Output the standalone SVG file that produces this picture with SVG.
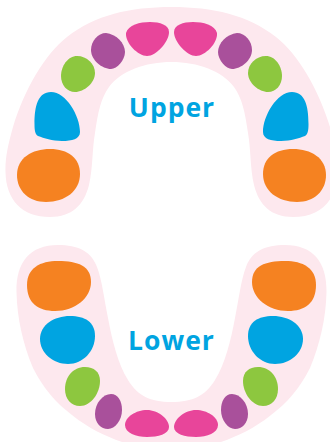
<svg xmlns="http://www.w3.org/2000/svg" xmlns:xlink="http://www.w3.org/1999/xlink" width="330" height="442" viewBox="0 0 330 442">
  <style>
    .gum { fill: #fde8ee; }
    .incisor { fill: #e8459a; }
    .canine { fill: #a9509b; }
    .premolar { fill: #8dc73f; }
    .first-molar { fill: #00a4e1; }
    .second-molar { fill: #f58221; }
    .label { font-family: "Open Sans", "Noto Sans", sans-serif; font-weight: 700; font-size: 26.5px; fill: #00a4e1; text-anchor: middle; letter-spacing: 1px; }
  </style>
  <defs>
    <!-- Left half of each tooth; the right half is its reflection about x=171.5 -->
    <path id="u-inc" d="M126,33 C128,25 140,22 150,22 C160,22 169,25 169,32 C169,42 156,56 147,56 C138,56 125,43 126,33Z"/>
    <path id="u-can" d="M91,50 C91,41 98,33 106,33 C116,34 125,43 125,52 C125,60 117,69 111,69 C102,69 91,60 91,50Z"/>
    <path id="u-pre" d="M61,76 C61,66 68,56 77,56 C87,56 95,64 95,73 C95,83 84,92 75,92 C67,92 61,85 61,76Z"/>
    <path id="u-m1" d="M34.500,124 C34.500,106 38,92 51,92 C66,92 80,116 80,132 C80,139 72,141 62,141 C52,141 44,138 38,136 C35,134 34.500,130 34.500,124Z"/>
    <path id="u-m2" d="M17,175 C17,158 32,149 50,149 C68,149 80,158 80,174 C80,191 65,202 46,202 C29,202 17,191 17,175Z"/>
    <path id="l-inc" d="M125,425 C125,417 136,410 147,410 C158,410 169,419 169,427 C169,434 158,437 147,437 C136,437 125,433 125,425Z"/>
    <path id="l-can" d="M95,414 C95,403 103,394 111,394 C118,394 122,401 122,410 C122,420 115,429 108,429 C101,429 95,423 95,414Z"/>
    <path id="l-pre" d="M65,389 C65,377 73,367 85,367 C94,367 100,372 100,381 C100,393 91,406 80,406 C71,406 65,399 65,389Z"/>
    <path id="l-m1" d="M40,339 C40,325 54,316 70,316 C85,316 95,322 95,336 C95,351 83,364 68,364 C53,364 40,353 40,339Z"/>
    <path id="l-m2" d="M27,285 C27,268 40,261 58,261 C78,261 91,266 91,282 C91,298 75,311 55,311 C38,311 27,303 27,285Z"/>
  </defs>

  <g id="upper-gum">
    <path class="gum" d="M171.5,7 C130,7 95,15 67,37 C45,54 24,90 13,127 C8,145 5,158 5.5,172 C6,200 22,217 50,217 C72,217 84,205 89,185 C93,168 92,150 95,133 C98,112 101,98 109,87 C121,71 145,62 171.5,62 C198,62 222,71 234,87 C242,98 245,112 248,133 C251,150 250,168 254,185 C259,205 271,217 293,217 C321,217 337,200 337.5,172 C338,158 335,145 330,127 C319,90 298,54 276,37 C248,15 213,7 171.5,7Z"/>
  </g>
  <g id="lower-gum">
    <path class="gum" d="M171.5,402 C150,402 138,396 128,380 C118,364 112,340 108,318 C104,298 102,280 97,267 C91,251 78,245 58,245 C30,245 16,262 16.500,292 C17,318 23,344 33,368 C43,388 56,403 72,415 C88,428 105,436 122,442 L221,442 C238,436 255,428 271,415 C287,403 300,388 310,368 C320,344 326,318 326.500,292 C327,262 313,245 285,245 C265,245 252,251 246,267 C241,280 239,298 235,318 C231,340 225,364 215,380 C205,396 193,402 171.5,402Z"/>
  </g>

  <g id="upper-central-incisors" class="incisor">
    <use xlink:href="#u-inc"/><use xlink:href="#u-inc" transform="matrix(-1 0 0 1 343 0)"/>
  </g>
  <g id="upper-canines" class="canine">
    <use xlink:href="#u-can"/><use xlink:href="#u-can" transform="matrix(-1 0 0 1 343 0)"/>
  </g>
  <g id="upper-premolars" class="premolar">
    <use xlink:href="#u-pre"/><use xlink:href="#u-pre" transform="matrix(-1 0 0 1 343 0)"/>
  </g>
  <g id="upper-first-molars" class="first-molar">
    <use xlink:href="#u-m1"/><use xlink:href="#u-m1" transform="matrix(-1 0 0 1 343 0)"/>
  </g>
  <g id="upper-second-molars" class="second-molar">
    <use xlink:href="#u-m2"/><use xlink:href="#u-m2" transform="matrix(-1 0 0 1 343 0)"/>
  </g>

  <g id="lower-second-molars" class="second-molar">
    <use xlink:href="#l-m2"/><use xlink:href="#l-m2" transform="matrix(-1 0 0 1 343 0)"/>
  </g>
  <g id="lower-first-molars" class="first-molar">
    <use xlink:href="#l-m1"/><use xlink:href="#l-m1" transform="matrix(-1 0 0 1 343 0)"/>
  </g>
  <g id="lower-premolars" class="premolar">
    <use xlink:href="#l-pre"/><use xlink:href="#l-pre" transform="matrix(-1 0 0 1 343 0)"/>
  </g>
  <g id="lower-canines" class="canine">
    <use xlink:href="#l-can"/><use xlink:href="#l-can" transform="matrix(-1 0 0 1 343 0)"/>
  </g>
  <g id="lower-central-incisors" class="incisor">
    <use xlink:href="#l-inc"/><use xlink:href="#l-inc" transform="matrix(-1 0 0 1 343 0)"/>
  </g>

  <g id="upper-label"><text class="label" x="172" y="117">Upper</text></g>
  <g id="lower-label"><text class="label" x="171.500" y="350">Lower</text></g>
</svg>
